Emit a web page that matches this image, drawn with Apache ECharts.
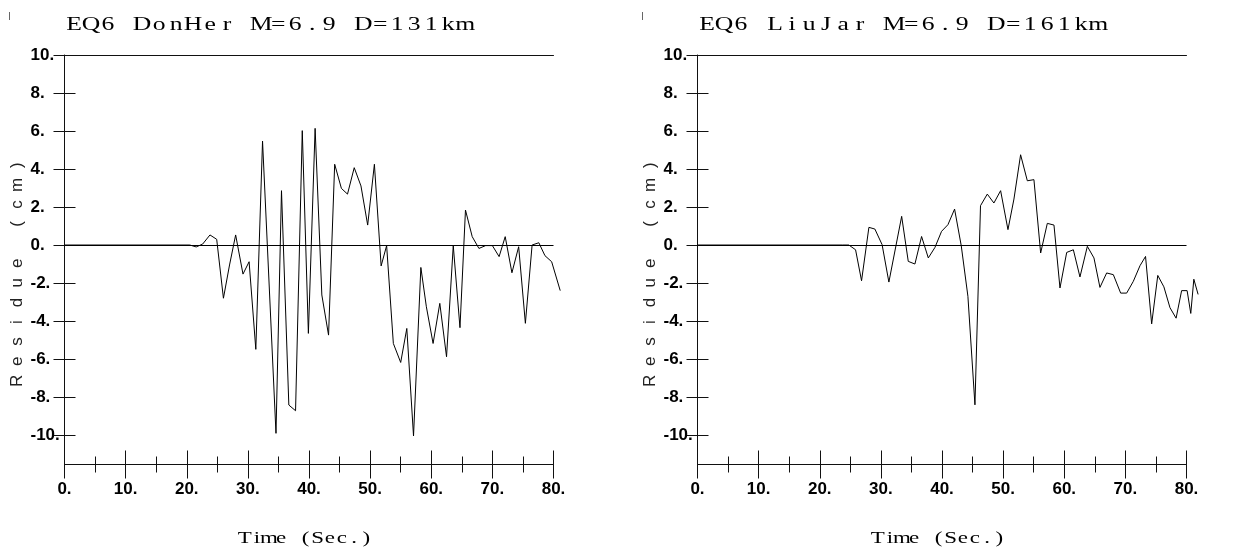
<!DOCTYPE html>
<html>
<head>
<meta charset="utf-8">
<script src="https://cdn.jsdelivr.net/npm/echarts@6/dist/echarts.min.js"></script>
<style>
html, body { margin: 0; padding: 0; background: #fff; }
#chart { width: 1244px; height: 550px; }
</style>
</head>
<body>
<div id="chart"></div>
<script>
// residue traces (time in s, residue in cm)
const donherTime = [0, 20.5, 21.55, 22.6, 23.8, 24.9, 26.0, 27.0, 28.0, 29.2, 30.2, 31.3, 32.4, 34.6, 35.5, 36.7, 37.8, 38.9, 39.9, 41.0,
    42.1, 43.2, 44.2, 45.3, 46.3, 47.4, 48.5, 49.6, 50.7, 51.8, 52.7, 53.8, 55.0, 56.0, 57.1, 58.3, 59.2, 60.3, 61.4, 62.5,
    63.6, 64.7, 65.6, 66.7, 67.8, 68.9, 70.0, 71.1, 72.1, 73.2, 74.3, 75.4, 76.5, 77.6, 78.6, 79.7, 81.1];
const donherResidue = [0, 0, -0.1, 0.05, 0.53, 0.3, -2.8, -1.05, 0.53, -1.53, -0.88, -5.49, 5.47, -9.91, 2.86, -8.42, -8.72, 6.02, -4.65, 6.14,
    -2.63, -4.74, 4.25, 2.98, 2.68, 4.07, 3.11, 1.05, 4.25, -1.1, -0.03, -5.18, -6.18, -4.39, -10.05, -1.18, -3.25, -5.18, -3.07, -5.88,
    -0.03, -4.35, 1.84, 0.44, -0.18, -0.03, -0.03, -0.61, 0.44, -1.46, -0.09, -4.12, 0.0, 0.12, -0.56, -0.88, -2.4];

const liujarTime = [0, 23.7, 24.76, 25.86, 26.84, 28.04, 29.02, 30.2, 31.31, 33.4, 34.48, 35.57, 36.66, 37.76, 38.84, 39.93, 40.97, 42.06,
    43.15, 44.24, 45.39, 46.3, 47.41, 48.49, 49.59, 50.79, 51.77, 52.86, 53.96, 55.04, 56.14, 57.23, 58.32, 59.3, 60.4, 61.49,
    62.57, 63.78, 64.86, 65.84, 66.94, 68.03, 69.23, 70.21, 71.3, 72.39, 73.3, 74.3, 75.3, 76.3, 77.3, 78.3, 79.2, 80.1, 80.7, 81.2, 81.9];
const liujarResidue = [0, 0, 0, -0.25, -1.88, 0.93, 0.84, 0.02, -1.95, 1.51, -0.86, -1.0, 0.45, -0.68, -0.13, 0.72, 1.07, 1.89,
    -0.04, -2.7, -8.41, 2.07, 2.68, 2.21, 2.86, 0.81, 2.42, 4.75, 3.38, 3.44, -0.42, 1.14, 1.05, -2.26, -0.39, -0.25,
    -1.68, -0.07, -0.68, -2.23, -1.47, -1.56, -2.53, -2.53, -1.91, -1.09, -0.6, -4.15, -1.6, -2.2, -3.3, -3.85, -2.4, -2.4, -3.6, -1.8, -2.6];

const yTicks = [-10, -8, -6, -4, -2, 0, 2, 4, 6, 8, 10];
const xTicks = [0, 10, 20, 30, 40, 50, 60, 70, 80];
const panelTitles = ['EQ6 DonHer M=6.9 D=131km', 'EQ6 LiuJar M=6.9 D=161km'];
const xName = 'Time (Sec.)';
const yName = 'Residue (cm)';

const panelLeft = [64.5, 697.5];
const plotTop = 55, plotWidth = 489, plotHeight = 409.5;
const yMin = -11.55, yMax = 10;
const traceMax = 84; // traces run a little past the 80 s tick

const labelFont = "'Liberation Sans Narrow', 'Liberation Sans', Arial, sans-serif";
const serifFont = "'Liberation Serif', 'Times New Roman', serif";
const axisColor = '#111';

// one rich token per character, so the text sits on a fixed pitch like the old plot
function pitched(str) {
    return str.split('').map(ch => '{c|' + ch + '}').join('');
}

const grids = [], xAxes = [], yAxes = [], series = [], graphics = [];

panelLeft.forEach((left, i) => {
    grids.push({ left: left, top: plotTop, width: plotWidth, height: plotHeight });
    const g = grids.length - 1;

    const xBase = {
        type: 'value', gridIndex: g, min: xTicks[0], max: xTicks[xTicks.length - 1], interval: 10,
        splitLine: { show: false }
    };
    const xStart = xAxes.length;
    // labelled bottom axis, ticks pointing down
    xAxes.push(Object.assign({}, xBase, {
        position: 'bottom',
        axisLine: { onZero: false, lineStyle: { color: axisColor, width: 1 } },
        axisTick: { length: 14, lineStyle: { color: axisColor } },
        minorTick: { show: true, splitNumber: 2, length: 8, lineStyle: { color: axisColor } },
        axisLabel: {
            margin: 16, formatter: v => v + '.', color: '#000',
            fontFamily: labelFont, fontWeight: 'bold', fontSize: 17
        }
    }));
    // same axis again with ticks pointing up, so ticks cross the line
    xAxes.push(Object.assign({}, xBase, {
        position: 'bottom',
        axisLine: { show: false, onZero: false },
        axisTick: { inside: true, length: 14, lineStyle: { color: axisColor } },
        minorTick: { show: true, splitNumber: 2, length: 8, lineStyle: { color: axisColor } },
        axisLabel: { show: false }
    }));
    // top frame line
    xAxes.push(Object.assign({}, xBase, {
        position: 'top',
        axisLine: { onZero: false, lineStyle: { color: axisColor, width: 1 } },
        axisTick: { show: false },
        axisLabel: { show: false }
    }));

    const yBase = { type: 'value', gridIndex: g, min: yMin, max: yMax, position: 'left', splitLine: { show: false } };
    const yStart = yAxes.length;
    yAxes.push(Object.assign({}, yBase, {
        axisLine: { onZero: false, lineStyle: { color: axisColor, width: 1 } },
        axisTick: { customValues: yTicks, length: 11, lineStyle: { color: axisColor } },
        axisLabel: {
            customValues: yTicks, formatter: v => v + '.', align: 'left', margin: 34, color: '#000',
            fontFamily: labelFont, fontWeight: 'bold', fontSize: 17
        }
    }));
    yAxes.push(Object.assign({}, yBase, {
        axisLine: { show: false, onZero: false },
        axisTick: { customValues: yTicks, inside: true, length: 11, lineStyle: { color: axisColor } },
        axisLabel: { show: false }
    }));

    // zero reference line across the plot
    series.push({
        type: 'line', xAxisIndex: xStart, yAxisIndex: yStart, data: [], symbol: 'none',
        markLine: {
            silent: true, symbol: ['none', 'none'], label: { show: false },
            lineStyle: { color: '#000', type: 'solid', width: 1 },
            data: [{ yAxis: 0 }]
        }
    });

    // panel title
    graphics.push({
        type: 'text', x: left + 1, y: 25, scaleX: 1.35,
        style: {
            text: pitched(panelTitles[i]), align: 'left', verticalAlign: 'middle',
            rich: { c: { width: 12.6, align: 'center', fontSize: 19, fontFamily: serifFont, fill: '#000' } }
        }
    });
    // y axis name, rotated
    graphics.push({
        type: 'text', x: left - 47, y: 273, rotation: Math.PI / 2,
        style: {
            text: pitched(yName), align: 'center', verticalAlign: 'middle',
            rich: { c: { width: 19.6, align: 'center', fontSize: 17, fontFamily: "'Liberation Sans', Arial, sans-serif", fill: '#222' } }
        }
    });
    // x axis name
    graphics.push({
        type: 'text', x: left + 241, y: 539, scaleX: 1.35,
        style: {
            text: pitched(xName), align: 'center', verticalAlign: 'middle',
            rich: { c: { width: 9.0, align: 'center', fontSize: 17, fontFamily: serifFont, fill: '#000' } }
        }
    });
    // small stray mark at top left of each panel
    graphics.push({
        type: 'line', shape: { x1: left - 55, y1: 12, x2: left - 55, y2: 20 },
        style: { stroke: '#666', lineWidth: 1 }
    });
});

// hidden twin grids on the same pixel scale, wider, so the traces can run past 80 s unclipped
panelLeft.forEach((left, i) => {
    grids.push({ left: left, top: plotTop, width: plotWidth * traceMax / 80, height: plotHeight });
    const g = grids.length - 1;
    xAxes.push({ type: 'value', gridIndex: g, min: 0, max: traceMax, show: false });
    yAxes.push({ type: 'value', gridIndex: g, min: yMin, max: yMax, show: false });

    const t = i === 0 ? donherTime : liujarTime;
    const r = i === 0 ? donherResidue : liujarResidue;
    series.push({
        type: 'line',
        xAxisIndex: xAxes.length - 1,
        yAxisIndex: yAxes.length - 1,
        data: t.map((v, k) => [v, r[k]]),
        symbol: 'none',
        clip: false,
        lineStyle: { color: '#000', width: 1 }
    });
});

const chart = echarts.init(document.getElementById('chart'));
chart.setOption({
    animation: false,
    backgroundColor: '#fff',
    grid: grids,
    xAxis: xAxes,
    yAxis: yAxes,
    series: series,
    graphic: graphics
});
</script>
</body>
</html>
